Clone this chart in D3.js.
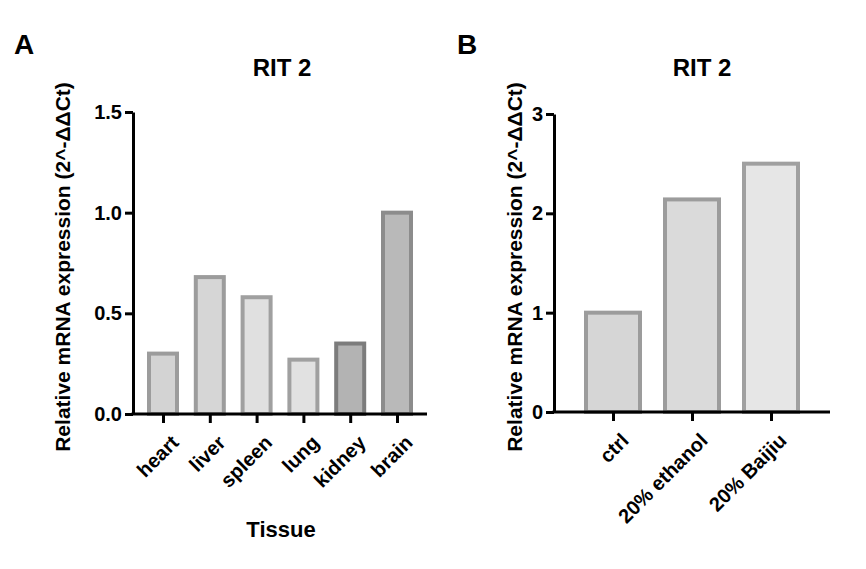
<!DOCTYPE html>
<html><head><meta charset="utf-8">
<script src="https://cdn.jsdelivr.net/npm/d3@7"></script>
<style>body{margin:0;background:#fff}text{font-family:"Liberation Sans",Arial,sans-serif;font-weight:bold;fill:#000}</style>
</head><body>
<script>
var tissues = ['heart', 'liver', 'spleen', 'lung', 'kidney', 'brain']
var tissueValues = [0.30, 0.68, 0.58, 0.27, 0.35, 1.0]
var tissueFills = ['#d3d3d3', '#d6d6d6', '#e0e0e0', '#e1e1e1', '#b3b3b3', '#b9b9b9']
var tissueStrokes = ['#9c9c9c', '#9c9c9c', '#a0a0a0', '#a0a0a0', '#7c7c7c', '#8c8c8c']
var treatments = ['ctrl', '20% ethanol', '20% Baijiu']
var treatmentValues = [1.0, 2.14, 2.5]
var treatmentFills = ['#d6d6d6', '#dadada', '#e6e6e6']
var treatmentStrokes = ['#9c9c9c', '#9c9c9c', '#a0a0a0']

var svg = d3.select('body').append('svg').attr('width', 866).attr('height', 569)

function panel(o) {
  var g = svg.append('g')
  var x = d3.scalePoint().domain(o.cats).range([o.x0 + o.pad, o.x1 - o.pad])
  var y = d3.scaleLinear().domain([0, o.max]).range([o.y0, o.y1])
  g.selectAll('rect').data(o.vals).enter().append('rect')
    .attr('x', function (d, i) { return x(o.cats[i]) - o.bw / 2 })
    .attr('y', function (d) { return y(d) })
    .attr('width', o.bw)
    .attr('height', function (d) { return y(0) - y(d) })
    .attr('fill', function (d, i) { return o.fills[i] })
    .attr('stroke', function (d, i) { return o.strokes[i] })
    .attr('stroke-width', 4)
  var ya = g.append('g').attr('transform', 'translate(' + o.x0 + ',0)')
    .call(d3.axisLeft(y).tickValues(o.ticks).tickFormat(o.fmt).tickSize(8).tickSizeOuter(0))
  var xa = g.append('g').attr('transform', 'translate(0,' + o.y0 + ')')
    .call(d3.axisBottom(x).tickSize(9).tickSizeOuter(0).tickFormat(''))
  g.selectAll('.domain, .tick line').attr('stroke', '#000').attr('stroke-width', 3)
  xa.select('.domain').attr('d', 'M' + (o.x0 - 1.5) + ',0H' + o.x1)
  ya.selectAll('text').style('font-size', '20px').attr('fill', '#000').attr('x', -11)
  g.selectAll('.clab').data(o.cats).enter().append('text')
    .attr('transform', function (d) { return 'translate(' + (x(d) + 7) + ',' + (o.y0 + 20) + ') rotate(-45)' })
    .attr('text-anchor', 'end').attr('dy', '0.7em').style('font-size', '20px').text(function (d) { return d })
  g.append('text').attr('x', o.tx).attr('y', 76).attr('text-anchor', 'middle').style('font-size', '24px').text('RIT 2')
  g.append('text').attr('transform', 'translate(' + o.lx + ',' + ((o.y0 + o.y1) / 2 + 4) + ') rotate(-90)')
    .attr('text-anchor', 'middle').style('font-size', '21px').text('Relative mRNA expression (2^-ΔΔCt)')
  g.append('text').attr('x', o.px).attr('y', 54).style('font-size', '28px').text(o.letter)
}

panel({ cats: tissues, vals: tissueValues, fills: tissueFills, strokes: tissueStrokes, x0: 133, x1: 427, pad: 30, y0: 414, y1: 112, max: 1.5, bw: 28,
  ticks: [0, 0.5, 1, 1.5], fmt: d3.format('.1f'), tx: 282, lx: 70, px: 14, letter: 'A' })
panel({ cats: treatments, vals: treatmentValues, fills: treatmentFills, strokes: treatmentStrokes, x0: 554, x1: 830, pad: 59, y0: 412, y1: 114, max: 3, bw: 54,
  ticks: [0, 1, 2, 3], fmt: d3.format('d'), tx: 702, lx: 522, px: 457, letter: 'B' })
svg.append('text').attr('x', 281).attr('y', 537).attr('text-anchor', 'middle').style('font-size', '22px').text('Tissue')
</script>
</body></html>
